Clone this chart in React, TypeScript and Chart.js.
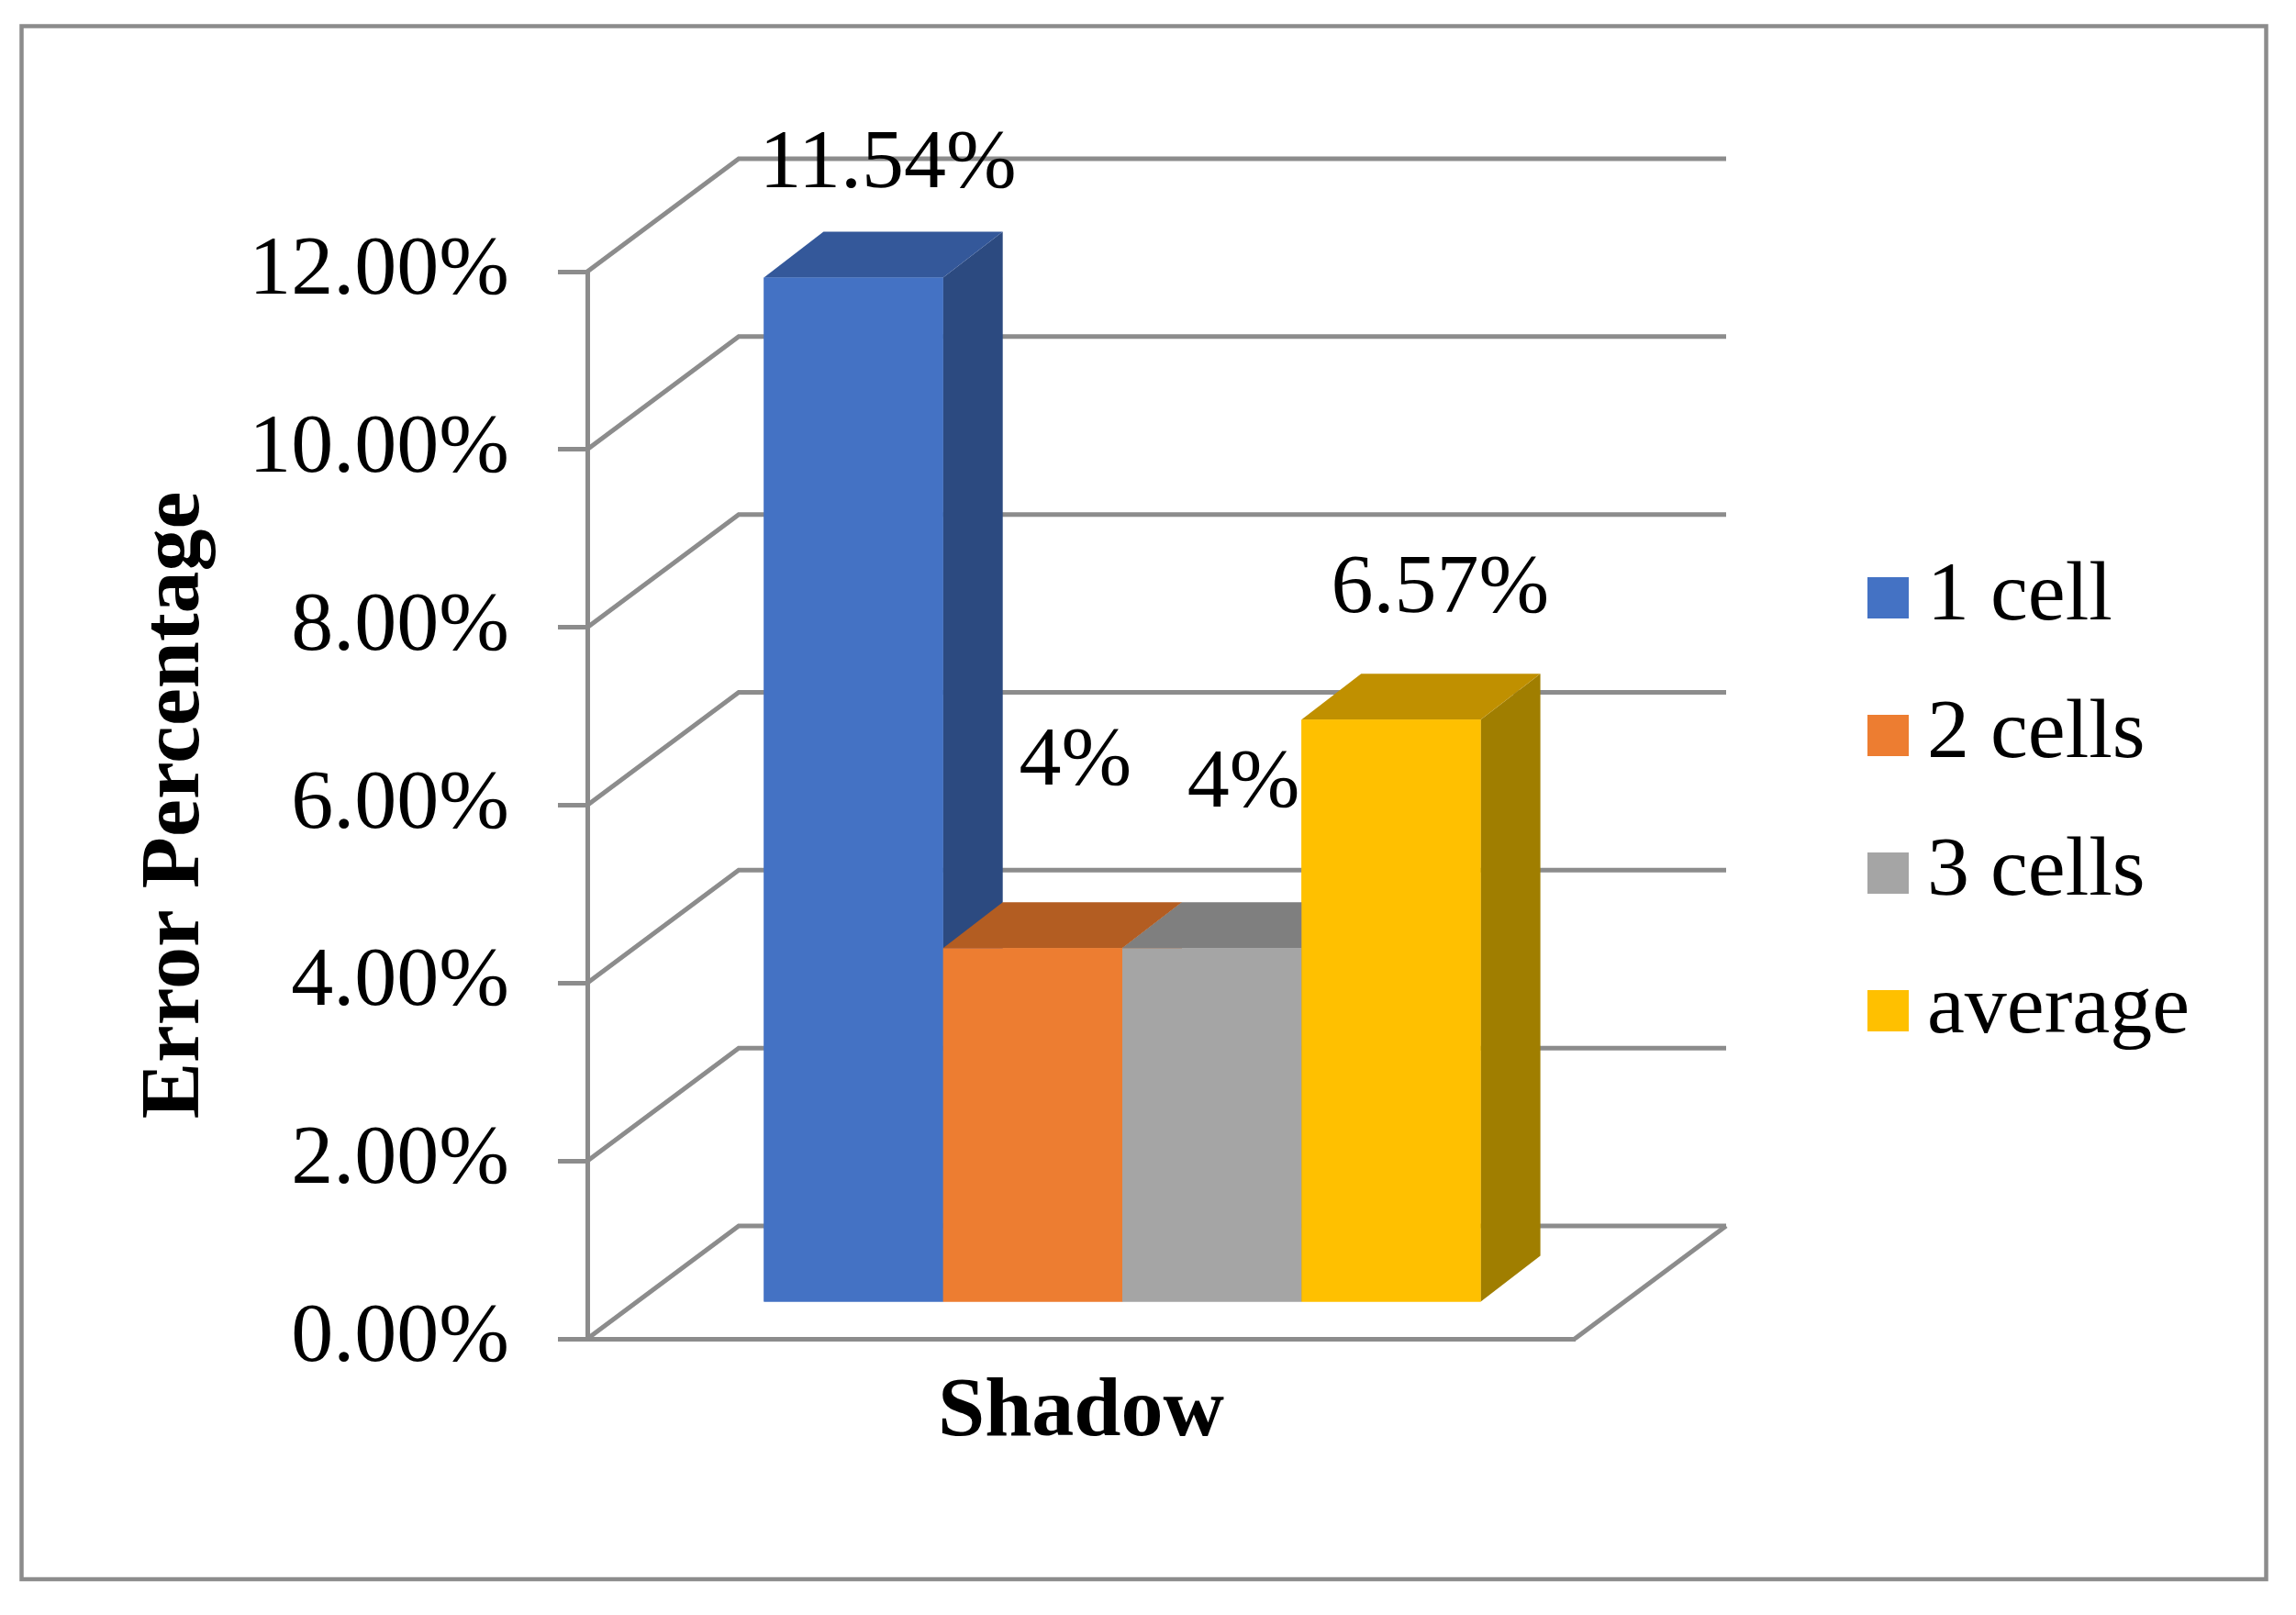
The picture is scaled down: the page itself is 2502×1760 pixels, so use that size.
import { useEffect, useRef } from 'react'
import { Chart, registerables } from 'chart.js'
Chart.register(...registerables)

// data
const CATEGORIES = ['Shadow']
const SERIES     = ['1 cell', '2 cells', '3 cells', 'average']
const VALUES     = [11.54, 4, 4, 6.57]          // percent
const Y_MIN = 0
const Y_MAX = 12
const Y_STEP = 2

// styles
const FRONT = ['#4472C4', '#ED7D31', '#A5A5A5', '#FFC000']
const TOP   = ['#34589A', '#B35D22', '#7F7F7F', '#C09000']
const SIDE  = ['#2C4A80', '#A9571E', '#6E6E6E', '#A07E00']
const LINE  = '#8c8c8c'
const FONT  = "'Liberation Serif', 'Times New Roman', serif"
const FS    = 92

const W = 2502, H = 1760
const DEPTH = { x: 165, y: -123 }   // wall depth
const BAR_OFF = { x: 45, y: -38 }   // bar front plane offset
const BAR_D = { x: 65, y: -50 }     // bar depth
const LABEL_NUDGE = [[5, -98], [14, -177], [2, -153], [21, -116]]

const fmtLabel = (v: number) => `${+v.toFixed(2)}%`

const threeD = {
  id: 'threeD',
  beforeDraw(chart: Chart) {
    const ctx = chart.ctx
    ctx.save()
    ctx.strokeStyle = LINE
    ctx.lineWidth = 4.5
    ctx.strokeRect(23.5, 28.5, 2446, 1692.5)
    ctx.restore()
  },
  beforeDatasetsDraw(chart: Chart) {
    const { ctx, chartArea } = chart
    const y = chart.scales.y
    ctx.save()
    ctx.strokeStyle = LINE
    ctx.lineWidth = 5
    ctx.lineCap = 'butt'
    y.ticks.forEach(t => {
      const py = y.getPixelForValue(t.value)
      ctx.beginPath()
      ctx.moveTo(chartArea.left, py)
      ctx.lineTo(chartArea.left + DEPTH.x, py + DEPTH.y)
      ctx.lineTo(chartArea.right + DEPTH.x, py + DEPTH.y)
      ctx.stroke()
    })
    const by = y.getPixelForValue(Y_MIN)
    ctx.beginPath()
    ctx.moveTo(chartArea.right, by)
    ctx.lineTo(chartArea.right + DEPTH.x, by + DEPTH.y)
    ctx.stroke()
    ctx.restore()
    ctx.save()
    ctx.translate(BAR_OFF.x, BAR_OFF.y)
  },
  afterDatasetsDraw(chart: Chart) {
    const ctx = chart.ctx
    chart.data.datasets.forEach((_, i) => {
      const el: any = chart.getDatasetMeta(i).data[0]
      if (!el) return
      const { x, y, base, width } = el.getProps(['x', 'y', 'base', 'width'], true)
      const l = x - width / 2, r = x + width / 2
      // side
      ctx.fillStyle = SIDE[i]
      ctx.beginPath()
      ctx.moveTo(r, y); ctx.lineTo(r + BAR_D.x, y + BAR_D.y)
      ctx.lineTo(r + BAR_D.x, base + BAR_D.y); ctx.lineTo(r, base)
      ctx.closePath(); ctx.fill()
      // top
      ctx.fillStyle = TOP[i]
      ctx.beginPath()
      ctx.moveTo(l, y); ctx.lineTo(l + BAR_D.x, y + BAR_D.y)
      ctx.lineTo(r + BAR_D.x, y + BAR_D.y); ctx.lineTo(r, y)
      ctx.closePath(); ctx.fill()
      el.draw(ctx)
    })
    ctx.restore()
  },
  afterDraw(chart: Chart) {
    const ctx = chart.ctx
    ctx.save()
    ctx.font = `${FS}px ${FONT}`
    ctx.fillStyle = '#000'
    ctx.textAlign = 'center'
    ctx.textBaseline = 'middle'
    chart.data.datasets.forEach((ds, i) => {
      const el: any = chart.getDatasetMeta(i).data[0]
      if (!el) return
      const { x, y } = el.getProps(['x', 'y'], true)
      const cx = x + BAR_OFF.x + BAR_D.x / 2 + LABEL_NUDGE[i][0]
      const cy = y + BAR_OFF.y + BAR_D.y / 2 + LABEL_NUDGE[i][1]
      ctx.fillText(fmtLabel(ds.data[0] as number), cx, cy)
    })
    // legend
    ctx.textAlign = 'left'
    chart.data.datasets.forEach((ds, i) => {
      const cy = 651 + i * 150
      ctx.fillStyle = FRONT[i]
      ctx.fillRect(2035, cy - 22, 45, 45)
      ctx.fillStyle = '#000'
      ctx.fillText(ds.label as string, 2100, cy)
    })
    ctx.restore()
  },
}

export default function App() {
  const canvasRef = useRef<HTMLCanvasElement>(null)
  const chartRef  = useRef<Chart | null>(null)

  useEffect(() => {
    if (!canvasRef.current) return
    chartRef.current?.destroy()
    chartRef.current = new Chart(canvasRef.current, {
      type: 'bar',
      data: {
        labels: CATEGORIES,
        datasets: SERIES.map((s, i) => ({
          label:           s,
          data:            [VALUES[i]],
          backgroundColor: FRONT[i],
          borderWidth:     0,
          barPercentage:   1,
          categoryPercentage: 0.726,
          clip:            false as any,
        })),
      },
      options: {
        responsive:       false,
        devicePixelRatio: 1,
        animation:        false,
        layout: { padding: { top: 296, right: W - 1716, left: 0, bottom: 0 } },
        plugins: { legend: { display: false }, tooltip: { enabled: false } },
        scales: {
          x: {
            grid:   { display: false },
            border: { display: true, color: LINE, width: 5 },
            ticks:  { color: '#000', font: { size: FS, family: FONT, weight: 'bold' }, padding: 18 },
            afterFit: (s: any) => { s.height = H - 1459 },
          },
          y: {
            min: Y_MIN, max: Y_MAX,
            ticks: {
              stepSize: Y_STEP, color: '#000', padding: 53,
              font: { size: FS, family: FONT },
              callback: v => `${(+v).toFixed(2)}%`,
            },
            grid:   { drawOnChartArea: false, drawTicks: true, tickLength: 32, color: LINE, lineWidth: 5 },
            border: { display: true, color: LINE, width: 5 },
            title:  {
              display: true, text: 'Error Percentage', color: '#000',
              font: { size: FS, family: FONT, weight: 'bold' }, padding: { top: 137, bottom: 0 },
            },
            afterFit: (s: any) => { s.width = 640 },
          },
        },
      },
      plugins: [threeD],
    })
    return () => { chartRef.current?.destroy() }
  }, [])

  return (
    <div style={{ position: 'fixed', left: 0, top: 0, width: W, height: H, background: '#fff' }}>
      <canvas ref={canvasRef} width={W} height={H} style={{ display: 'block', width: W, height: H }} />
    </div>
  )
}
